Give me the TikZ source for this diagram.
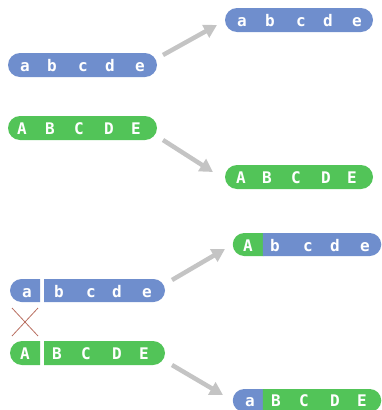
\documentclass[tikz,border=0pt]{standalone}
\usepackage{fontspec}
\setmainfont{DejaVu Sans Mono}
\usetikzlibrary{shapes.misc,arrows.meta}
\definecolor{pillblue}{RGB}{111,142,205}
\definecolor{pillgreen}{RGB}{82,196,88}
\definecolor{arrowgray}{RGB}{196,196,196}
\definecolor{crossred}{RGB}{184,110,96}
\tikzset{
  pill/.style={rounded rectangle, inner sep=0pt, outer sep=0pt, draw=none},
  lpart/.style={pill, rounded rectangle right arc=none},
  rpart/.style={pill, rounded rectangle left arc=none},
  letter/.style={text=white, font=\fontsize{16}{16}\selectfont\bfseries, anchor=base, inner sep=0pt},
  move/.style={draw=arrowgray, line width=4.5pt, -{Triangle[width=14pt,length=13pt]}}
}
% place a row of letters: #1 = baseline y, #2 = list of x/letter
\newcommand\letterrow[2]{%
  \foreach \lx/\lt in {#2} {\node[letter] at (\lx,#1) {\lt};}}
\begin{document}
\begin{tikzpicture}[x=1pt,y=-1pt]
\useasboundingbox (0,0) rectangle (382,410);

% --- lower-case word moved up ---
\node[pill, fill=pillblue, minimum width=149pt, minimum height=24pt] (src1) at (82.5,65) {};
\letterrow{71.5}{25/a,52/b,83/c,110/d,140/e}
\node[pill, fill=pillblue, minimum width=148pt, minimum height=24pt] (dst1) at (299,20) {};
\letterrow{26.5}{242/a,270/b,301/c,328/d,357/e}

% --- upper-case word moved down ---
\node[pill, fill=pillgreen, minimum width=149pt, minimum height=24pt] (src2) at (82.5,128) {};
\letterrow{134.5}{22/A,50/B,79/C,109/D,136/E}
\node[pill, fill=pillgreen, minimum width=148pt, minimum height=24pt] (dst2) at (299,177) {};
\letterrow{183.5}{241/A,267/B,296/C,326/D,352/E}

% --- split words, first letters swapped ---
\node[lpart, fill=pillblue, minimum width=30pt, minimum height=23pt] (s3a) at (25,290.5) {};
\node[rpart, fill=pillblue, minimum width=121pt, minimum height=23pt] (s3b) at (104.5,290.5) {};
\letterrow{297}{27/a,59/b,91/c,117/d,147/e}

\node[lpart, fill=pillgreen, minimum width=30pt, minimum height=24pt] (s4a) at (25,353) {};
\node[rpart, fill=pillgreen, minimum width=121pt, minimum height=24pt] (s4b) at (104.5,353) {};
\letterrow{359.5}{25/A,57/B,86/C,117/D,144/E}

\draw[crossred, line width=0.8pt] (12,308) -- (38,336) (38,308) -- (12,336);

\node[lpart, fill=pillgreen, minimum width=30.5pt, minimum height=23pt] (d3a) at (248,244.5) {};
\node[rpart, fill=pillblue, minimum width=118.5pt, minimum height=23pt] (d3b) at (322,244.5) {};
\letterrow{251}{248/A,275/b,308/c,335/d,365/e}

\node[lpart, fill=pillblue, minimum width=30.5pt, minimum height=23pt] (d4a) at (248,400.5) {};
\node[rpart, fill=pillgreen, minimum width=118.5pt, minimum height=23pt] (d4b) at (322,400.5) {};
\letterrow{406.5}{250/a,276/B,304/C,335/D,362/E}

% --- arrows ---
\coordinate (t1) at (163,55);  \coordinate (h1) at (217,25);
\coordinate (t2) at (163,140); \coordinate (h2) at (213,172);
\coordinate (t3) at (172,280); \coordinate (h3) at (225,249);
\coordinate (t4) at (172,365); \coordinate (h4) at (223,395);
\draw[move] (t1) -- (h1);
\draw[move] (t2) -- (h2);
\draw[move] (t3) -- (h3);
\draw[move] (t4) -- (h4);
\end{tikzpicture}
\end{document}
